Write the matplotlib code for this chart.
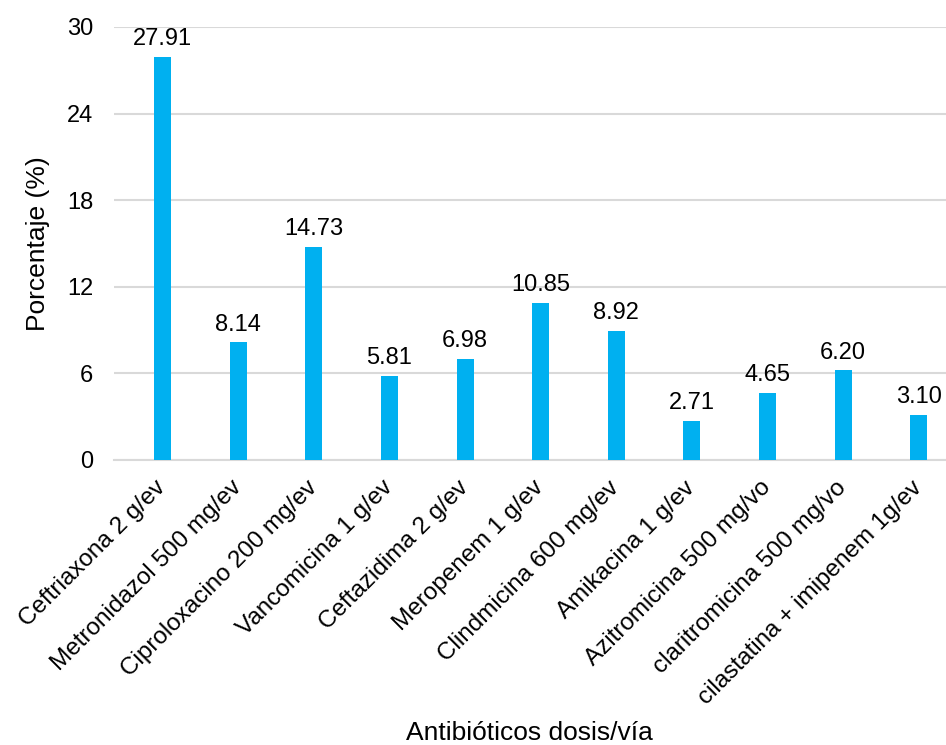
import matplotlib.pyplot as plt
import matplotlib.transforms as mtransforms
import numpy as np

plt.rcParams['font.family'] = ['Liberation Sans', 'DejaVu Sans']

antibioticos = ['Ceftriaxona 2 g/ev',
                'Metronidazol 500 mg/ev',
                'Ciproloxacino 200 mg/ev',
                'Vancomicina 1 g/ev',
                'Ceftazidima 2 g/ev',
                'Meropenem 1 g/ev',
                'Clindmicina 600 mg/ev',
                'Amikacina 1 g/ev',
                'Azitromicina 500 mg/vo',
                'claritromicina 500 mg/vo',
                'cilastatina + imipenem 1g/ev']

porcentaje = [27.91, 8.14, 14.73, 5.81, 6.98, 10.85, 8.92, 2.71, 4.65, 6.20, 3.10]

y_ticks = [0, 6, 12, 18, 24, 30]


fig = plt.figure(figsize=(9.46, 7.45), dpi=100)
ax = fig.add_axes([0.1205, 0.3826, 0.8795, 0.5812])

x_pos = np.arange(len(antibioticos))
bars = ax.bar(x_pos, porcentaje, width=0.225, color='#00B0F0', zorder=3)

for b, v in zip(bars, porcentaje):
    ax.annotate('{:.2f}'.format(v), (b.get_x() + b.get_width() / 2, v),
                xytext=(0, 5), textcoords='offset points',
                ha='center', va='bottom', fontsize=17, color='black')

ax.set_xlim(-0.642, 10.36)
ax.set_ylim(0, 30)
ax.set_yticks(y_ticks)
ax.set_yticklabels([str(t) for t in y_ticks], fontsize=17)
ax.yaxis.grid(True, color='#D9D9D9', linewidth=1.5, zorder=0)
ax.tick_params(axis='both', length=0)
ax.tick_params(axis='y', pad=15)

ax.set_xticks(x_pos)
ax.set_xticklabels(antibioticos, rotation=45, ha='right',
                   rotation_mode='anchor', fontsize=17.5)
ax.tick_params(axis='x', pad=12)
# nudge the slanted names a little to the left
shift = mtransforms.ScaledTranslation(-8 / 100, 0, fig.dpi_scale_trans)
for lbl in ax.get_xticklabels():
    lbl.set_transform(lbl.get_transform() + shift)

for s in ['top', 'right', 'left']:
    ax.spines[s].set_visible(False)
ax.spines['bottom'].set_color('#D9D9D9')
ax.spines['bottom'].set_linewidth(1.5)

ax.set_ylabel('Porcentaje (%)', fontsize=19, labelpad=12)
fig.text(0.56, 0.0, 'Antibióticos dosis/vía', ha='center', va='bottom',
         fontsize=19)

plt.savefig('out.png', dpi=100)
